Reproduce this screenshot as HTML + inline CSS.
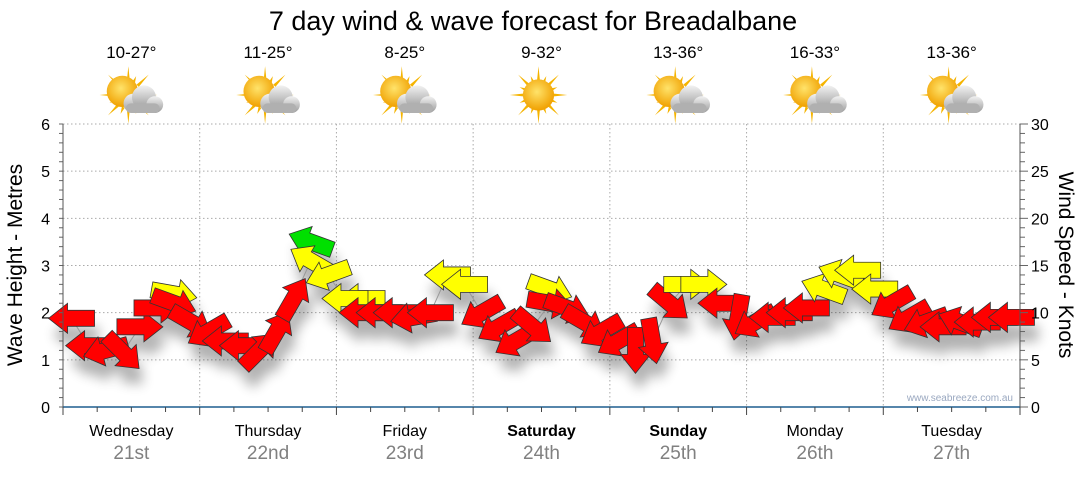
<!DOCTYPE html>
<html><head><meta charset="utf-8">
<style>
html,body{margin:0;padding:0;background:#fff;}
body{width:1080px;height:475px;overflow:hidden;font-family:"Liberation Sans","DejaVu Sans",sans-serif;}
</style></head>
<body>
<svg id="chart" width="1080" height="475" viewBox="0 0 1080 475" xmlns="http://www.w3.org/2000/svg">
<defs>
<filter id="shadow" x="-50%" y="-50%" width="200%" height="250%">
<feGaussianBlur stdDeviation="6"/>
</filter>
<radialGradient id="sunG" cx="0.45" cy="0.4" r="0.6"><stop offset="0" stop-color="#ffe36a"/><stop offset="1" stop-color="#f0a000"/></radialGradient>
<linearGradient id="cloudG" x1="0" y1="0" x2="0" y2="1"><stop offset="0" stop-color="#f2f2f2"/><stop offset="1" stop-color="#9a9a9a"/></linearGradient>
</defs>
<text x="533" y="30" text-anchor="middle" font-size="27" fill="#000">7 day wind &amp; wave forecast for Breadalbane</text>
<g id="grid"></g>
<g id="shadows" filter="url(#shadow)" opacity="0.3"></g>
<g id="marks"></g>
<g id="axes"></g>
<text transform="translate(22,265) rotate(-90)" text-anchor="middle" font-size="21" fill="#000">Wave Height - Metres</text>
<text transform="translate(1059,265) rotate(90)" text-anchor="middle" font-size="21" fill="#000">Wind Speed - Knots</text>
<text x="1013" y="401" text-anchor="end" font-size="10" fill="#9aa8c0">www.seabreeze.com.au</text>
</svg>
<script>
const days = ["Wednesday","Thursday","Friday","Saturday","Sunday","Monday","Tuesday"];
const dates = ["21st","22nd","23rd","24th","25th","26th","27th"];
const temps = ["10-27°","11-25°","8-25°","9-32°","13-36°","16-33°","13-36°"];
const weekend = [false,false,false,true,true,false,false];
const icons = ["partly","partly","partly","sunny","partly","partly","partly"];
const waveTicks = [0,1,2,3,4,5,6];
const windTicks = [0,5,10,15,20,25,30];
// 3-hourly wind points
const windSpeed = [9.4,6.5,6.0,5.8,8.5,10.5,11,9,
  8,7,6.5,6,8,11.5,15.5,14,
  11.5,10,10,10,9.5,10,14,13,
  10,8.5,7,8.5,11,10.5,9,8,
  7,6,7,11,13,13,11,9.5,
  9,9.5,10,10.5,12.5,14,14.5,12.5,
  11,9.5,9,8.5,9,9,9.5,9.5];
const windDir = [180,180,165,45,0,0,20,30,
  150,180,180,315,300,300,210,160,
  180,180,180,180,170,180,180,180,
  150,150,150,40,10,20,30,150,
  150,90,80,40,0,0,180,100,
  150,180,180,180,200,200,180,180,
  150,150,160,180,200,180,180,180];
const windCat = [0,0,0,0,0,0,0,0,
  0,0,0,0,0,0,1,1,
  1,0,0,0,0,0,1,1,
  0,0,0,0,0,0,0,0,
  0,0,0,0,1,1,0,0,
  0,0,0,0,1,1,1,1,
  0,0,0,0,0,0,0,0];
const gustSpeed = [null,null,null,null,null,null,12,null, null,null,null,null,null,null,17.5,null,
  null,11.5,null,null,null,null,null,null, null,null,null,null,12.5,null,null,null,
  null,null,null,null,null,null,null,null, null,null,null,null,null,null,null,null,
  null,null,null,null,null,null,null,null];
const gustCat = [0,0,0,0,0,0,1,0, 0,0,0,0,0,0,2,0, 0,1,0,0,0,0,0,0, 0,0,0,0,1,0,0,0, 0,0,0,0,0,0,0,0, 0,0,0,0,0,0,0,0, 0,0,0,0,0,0,0,0];
const gustDir = [0,0,0,0,0,0,10,0, 0,0,0,0,0,0,200,0, 0,180,0,0,0,0,0,0, 0,0,0,0,20,0,0,0, 0,0,0,0,0,0,0,0, 0,0,0,0,0,0,0,0, 0,0,0,0,0,0,0,0];

const X0=63,X1=1020,Y0=407,Y1=124;
const dayW=(X1-X0)/7;
const xDay=d=>X0+d*dayW;
const xPt=i=>X0+(i+0.5)*dayW/8;
const yWave=v=>Y0-(v/6)*(Y0-Y1);
const yWind=v=>Y0-(v/30)*(Y0-Y1);
const colors=["#ff0000","#ffff00","#00e000"];
const NS="http://www.w3.org/2000/svg";
function mk(tag,attrs,parent){const e=document.createElementNS(NS,tag);for(const k in attrs)e.setAttribute(k,attrs[k]);parent.appendChild(e);return e;}
const grid=document.getElementById('grid'),axes=document.getElementById('axes'),marks=document.getElementById('marks'),shadows=document.getElementById('shadows'),svg=document.getElementById('chart');

waveTicks.forEach(v=>{
  if(v>0){const g=mk('line',{x1:X0,x2:X1,y1:yWave(v),y2:yWave(v),stroke:'#aaa','stroke-dasharray':'1.5,2.5'},grid);
  
  }
  const t=mk('text',{x:50,y:yWave(v)+6,'text-anchor':'end','font-size':16,fill:'#000'},axes);t.textContent=v;
  
  
});
for(let k=0;k<=30;k++){const y=Y0-k/5*(Y0-Y1)/6;mk('line',{x1:X0-4,x2:X0,y1:y,y2:y,stroke:'#666'},axes);mk('line',{x1:X1,x2:X1+(k%5==0?8:5),y1:y,y2:y,stroke:'#666'},axes);}
windTicks.forEach(v=>{
  const t=mk('text',{x:1031,y:yWind(v)+6,'font-size':16,fill:'#000'},axes);t.textContent=v;
  
  
});
for(let d=1;d<7;d++){const g=mk('line',{x1:xDay(d),x2:xDay(d),y1:Y1,y2:Y0,stroke:'#aaa','stroke-dasharray':'1.5,2.5'},grid);
  
  }
mk('line',{x1:X0,x2:X0,y1:Y1,y2:Y0,stroke:'#555'},axes);
mk('line',{x1:X1,x2:X1,y1:Y1,y2:Y0,stroke:'#555'},axes);
mk('line',{x1:X0,x2:X1,y1:Y0,y2:Y0,stroke:'#1f5f8f','stroke-width':1.5},axes);
for(let d=0;d<=7;d++){mk('line',{x1:xDay(d),x2:xDay(d),y1:Y0,y2:Y0+8,stroke:'#444'},axes);
  if(d<7)for(let h=1;h<4;h++){const x=xDay(d)+h*dayW/4;mk('line',{x1:x,x2:x,y1:Y0,y2:Y0+5,stroke:'#444'},axes);}}

days.forEach((d,i)=>{
  const cx=xDay(i)+dayW/2;
  const t=mk('text',{x:cx,y:436,'text-anchor':'middle','font-size':16,fill:'#000','font-weight':weekend[i]?'bold':'normal'},axes);t.textContent=d;
  
  
  const t2=mk('text',{x:cx,y:459,'text-anchor':'middle','font-size':19,fill:'#808080'},axes);t2.textContent=dates[i];
  
  
  const t3=mk('text',{x:cx,y:58,'text-anchor':'middle','font-size':17,fill:'#000'},svg);t3.textContent=temps[i];
  
  
  const g=mk('g',{transform:`translate(${cx-3},${95}) scale(1.2)`},svg);
  
  
  for(let r=0;r<16;r++){const a=r*Math.PI/8;const L=r%2?17:24;mk('polygon',{points:`${Math.cos(a-0.12)*11},${Math.sin(a-0.12)*11} ${Math.cos(a)*L},${Math.sin(a)*L} ${Math.cos(a+0.12)*11},${Math.sin(a+0.12)*11}`,fill:'#f5b400'},g);}
  if(icons[i]==='sunny'){mk('circle',{cx:0,cy:0,r:13,fill:'url(#sunG)'},g);}
  else{mk('circle',{cx:-5,cy:-3,r:13,fill:'url(#sunG)'},g);
    const c=mk('g',{transform:'translate(10,5)'},g);
    mk('circle',{cx:-6,cy:2,r:8,fill:'url(#cloudG)'},c);mk('circle',{cx:3,cy:-3,r:10,fill:'url(#cloudG)'},c);mk('circle',{cx:12,cy:3,r:7,fill:'url(#cloudG)'},c);
    mk('rect',{x:-12,y:2,width:28,height:8,rx:4,fill:'#b0b0b0'},c);}
});

const arrowPts="-23,-8 4,-8 4,-15 23,0 4,15 4,8 -23,8";
// connector line
let pd="";windSpeed.forEach((v,i)=>{pd+=(i?"L":"M")+xPt(i)+","+yWind(v);});
mk('path',{d:pd,fill:'none',stroke:'#999','stroke-width':1},marks);
function drawArrow(i,v,dir,cat,name){
  const x=xPt(i),y=yWind(v);
  mk('polygon',{points:arrowPts,transform:`translate(${x+4},${y+16}) rotate(${dir})`,fill:'#000'},shadows);
  const a=mk('polygon',{points:arrowPts,transform:`translate(${x},${y}) rotate(${dir})`,fill:colors[cat],stroke:'#333','stroke-width':0.8},marks);
  
  
}
gustSpeed.forEach((v,i)=>{if(v!==null)drawArrow(i,v,gustDir[i],gustCat[i],'gust-arrow');});
windSpeed.forEach((v,i)=>drawArrow(i,v,windDir[i],windCat[i],'wind-arrow'));
</script>
</body></html>
